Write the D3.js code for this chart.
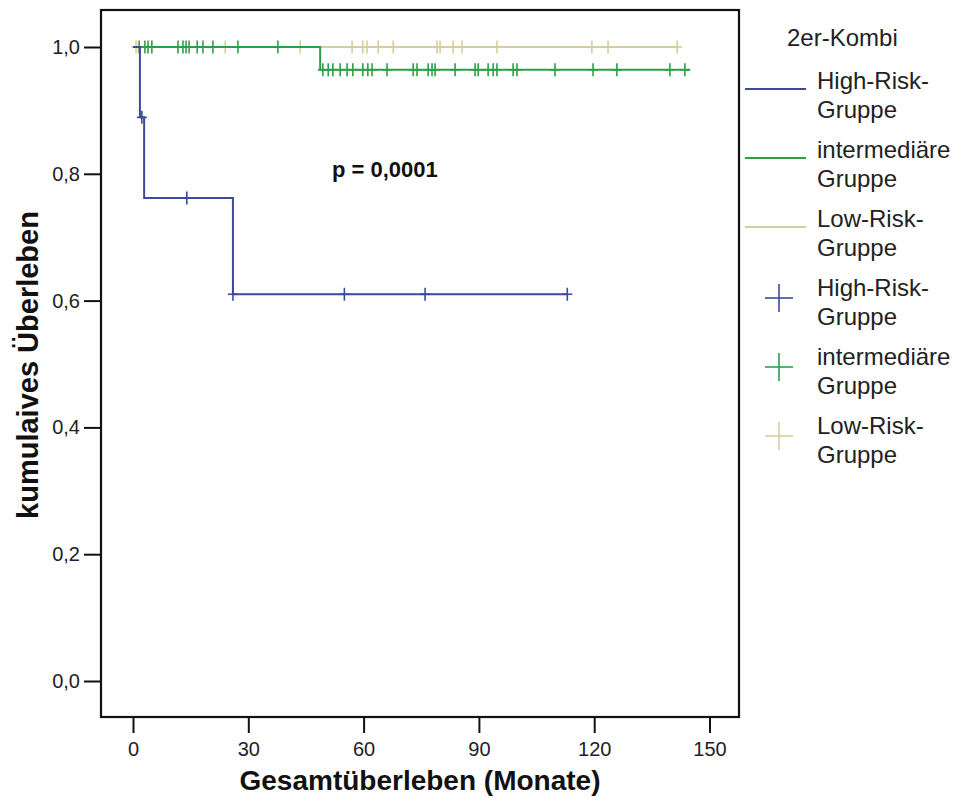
<!DOCTYPE html>
<meta charset="utf-8">
<script src="https://d3js.org/d3.v7.min.js"></script>
<style>
  body { margin: 0; background: #fff; }
  text { font-family: Arial, "Liberation Sans", sans-serif; }
</style>
<div id="chart"></div>
<script>

// groups and colours
var groups = ["High-Risk-Gruppe", "intermediäre Gruppe", "Low-Risk-Gruppe"];
var legendLines = [["High-Risk-", "Gruppe"], ["intermediäre", "Gruppe"], ["Low-Risk-", "Gruppe"]];
var colors = ["#3c4a9a", "#2f9e48", "#d4cf9c"];

// step points: [months, cumulative survival]
var highSteps = [[0, 1], [1.8, 0.889], [2.9, 0.762], [26, 0.610]];
var interSteps = [[0, 1], [48.7, 0.964]];
var lowSteps = [[0, 1]];

// last follow-up time per group
var endTimes = [113, 145, 141.6];

// censored observations (months)
var highCensor = [2.3, 14, 26, 55, 76, 113];
var interCensor = [1.6, 3.1, 3.9, 4.9, 11.7, 13.0, 13.8, 14.6, 16.7, 18.2, 20.8, 27.3, 37.7,
  49.4, 50.8, 52.0, 53.9, 55.7, 57.2, 59.8, 61.1, 62.2, 66.1, 72.9, 73.9, 76.8, 77.8, 78.6,
  83.8, 89.0, 89.8, 92.4, 93.7, 94.7, 98.9, 99.9, 109.8, 119.7, 125.9, 139.7, 143.6];
var lowCensor = [0.8, 24, 43.5, 57, 59.8, 60.9, 63.8, 67.7, 79.1, 79.9, 83.3, 85.6, 94.7,
  119.4, 123.6, 141.6];

var xTicks = [0, 30, 60, 90, 120, 150];
var yTicks = [0, 0.2, 0.4, 0.6, 0.8, 1.0];

var steps = [highSteps, interSteps, lowSteps];
var censors = [highCensor, interCensor, lowCensor];

// frame of the plot
var margin = {top: 10, left: 101},
    width = 638,
    height = 707;

var svg = d3.select("#chart")
  .append("svg")
    .attr("width", 959)
    .attr("height", 798);

var g = svg.append("g")
  .attr("transform", "translate(" + margin.left + "," + margin.top + ")");

var x = d3.scaleLinear().domain([0, 150]).range([32, 608.5]);
var y = d3.scaleLinear().domain([0, 1]).range([671, 37]);

// survival value at time t
function survAt(s, t) {
  var v = s[0][1];
  s.forEach(function(p) { if (p[0] <= t) v = p[1]; });
  return v;
}

var line = d3.line()
  .x(function(d) { return x(d[0]); })
  .y(function(d) { return y(d[1]); })
  .curve(d3.curveStepAfter);

// draw low-risk first so the others sit on top
[2, 1, 0].forEach(function(i) {
  var s = steps[i];
  var pts = s.concat([[endTimes[i], s[s.length - 1][1]]]);
  g.append("path")
    .attr("d", line(pts))
    .attr("fill", "none")
    .attr("stroke", colors[i])
    .attr("stroke-width", 2);

  var marks = g.append("g")
    .attr("stroke", colors[i])
    .attr("stroke-width", 1.6);
  censors[i].forEach(function(t) {
    var cx = x(t), cy = y(survAt(s, t));
    marks.append("line").attr("x1", cx).attr("x2", cx).attr("y1", cy - 6.5).attr("y2", cy + 6.5);
    marks.append("line").attr("x1", cx - 5).attr("x2", cx + 5).attr("y1", cy).attr("y2", cy);
  });
});

// frame
g.append("rect")
  .attr("width", width)
  .attr("height", height)
  .attr("fill", "none")
  .attr("stroke", "#111")
  .attr("stroke-width", 2.2);

// axes
var yAxis = g.append("g")
  .call(d3.axisLeft(y).tickValues(yTicks).tickSize(17).tickPadding(4)
    .tickFormat(function(d) { return d3.format(".1f")(d).replace(".", ","); }));
var xAxis = g.append("g")
  .attr("transform", "translate(0," + height + ")")
  .call(d3.axisBottom(x).tickValues(xTicks).tickSize(16).tickPadding(9));

[yAxis, xAxis].forEach(function(a) {
  a.select(".domain").remove();
  a.selectAll(".tick line").attr("stroke", "#111").attr("stroke-width", 2);
  a.selectAll(".tick text")
    .attr("fill", "#222")
    .style("font-size", "20px")
    .style("font-family", "Arial, 'Liberation Sans', sans-serif");
});

// axis titles
svg.append("text")
  .attr("transform", "translate(38,365) rotate(-90)")
  .attr("text-anchor", "middle")
  .style("font-size", "29px")
  .style("font-weight", "bold")
  .attr("fill", "#111")
  .text("kumulaives Überleben");

svg.append("text")
  .attr("x", margin.left + width / 2)
  .attr("y", 790)
  .attr("text-anchor", "middle")
  .style("font-size", "28px")
  .style("font-weight", "bold")
  .attr("fill", "#111")
  .text("Gesamtüberleben (Monate)");

// p-value
svg.append("text")
  .attr("x", 332)
  .attr("y", 177)
  .style("font-size", "22px")
  .style("font-weight", "bold")
  .attr("fill", "#111")
  .text("p = 0,0001");

// legend
var leg = svg.append("g").attr("transform", "translate(745,0)");
function legText(tx, ty, s) {
  leg.append("text")
    .attr("x", tx).attr("y", ty)
    .style("font-size", "24px")
    .attr("fill", "#222")
    .text(s);
}
legText(42, 46, "2er-Kombi");

var rowH = 69;
[0, 1, 2].forEach(function(i) {
  var base = 89 + i * rowH;
  leg.append("line")
    .attr("x1", 0).attr("x2", 61)
    .attr("y1", base).attr("y2", base)
    .attr("stroke", colors[i]).attr("stroke-width", 2);
  legText(72, base, legendLines[i][0]);
  legText(72, base + 29, legendLines[i][1]);
});
[0, 1, 2].forEach(function(i) {
  var base = 296 + i * rowH;
  var cy = base + 2, cx = 34;
  leg.append("line").attr("x1", cx - 14).attr("x2", cx + 14).attr("y1", cy).attr("y2", cy)
    .attr("stroke", colors[i]).attr("stroke-width", 1.6);
  leg.append("line").attr("x1", cx).attr("x2", cx).attr("y1", cy - 14).attr("y2", cy + 14)
    .attr("stroke", colors[i]).attr("stroke-width", 1.6);
  legText(72, base, legendLines[i][0]);
  legText(72, base + 29, legendLines[i][1]);
});

</script>
